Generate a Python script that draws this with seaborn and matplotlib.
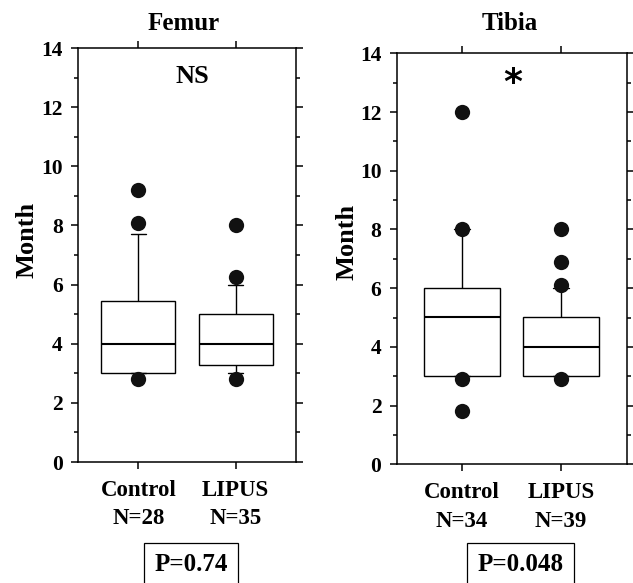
import matplotlib
matplotlib.use("Agg")
import matplotlib.pyplot as plt
import seaborn as sns
import pandas as pd
from matplotlib.ticker import MultipleLocator

# groups and sample sizes
groups = ["Control", "LIPUS"]
femur_n = [28, 35]
tibia_n = [34, 39]

# box summaries (10th pct, Q1, median, Q3, 90th pct)
femur_lo = [3.0, 3.0]
femur_q1 = [3.0, 3.27]
femur_med = [4.0, 4.0]
femur_q3 = [5.45, 5.02]
femur_hi = [7.7, 6.0]

tibia_lo = [3.0, 3.0]
tibia_q1 = [3.0, 3.0]
tibia_med = [5.03, 3.98]
tibia_q3 = [6.0, 5.02]
tibia_hi = [8.0, 6.0]

# points outside the whiskers
femur_out_control = [9.2, 8.1, 2.8]
femur_out_lipus = [8.0, 6.25, 2.8]
tibia_out_control = [12.0, 8.0, 2.9, 1.83]
tibia_out_lipus = [8.0, 6.9, 6.1, 2.9]

femur_p = "P=0.74"
tibia_p = "P=0.048"


def box_frame(lo, q1, med, q3, hi):
    rows = []
    for i, g in enumerate(groups):
        for v in (lo[i], q1[i], med[i], q3[i], hi[i]):
            rows.append({"group": g, "month": v})
    return pd.DataFrame(rows)


def out_frame(out_control, out_lipus):
    rows = [{"group": "Control", "month": v} for v in out_control]
    rows += [{"group": "LIPUS", "month": v} for v in out_lipus]
    return pd.DataFrame(rows)


def draw_panel(ax, box_df, out_df, n, title, title_x, title_pad, mark, mark_kw, xlim):
    sns.boxplot(data=box_df, x="group", y="month", order=groups, whis=(0, 100),
                width=0.76, showfliers=False, ax=ax, capwidths=0.16,
                boxprops=dict(facecolor="white", edgecolor="black", linewidth=1.0),
                medianprops=dict(color="black", linewidth=1.5),
                whiskerprops=dict(color="black", linewidth=1.0),
                capprops=dict(color="black", linewidth=1.0))
    sns.stripplot(data=out_df, x="group", y="month", order=groups, jitter=False,
                  color="#111111", size=11, linewidth=0, ax=ax, zorder=5)
    ax.set_ylim(0, 14)
    ax.set_xlim(*xlim)
    ax.yaxis.set_major_locator(MultipleLocator(2))
    ax.yaxis.set_minor_locator(MultipleLocator(1))
    ax.set_xticks([0, 1])
    ax.set_xticklabels([f"{g}\nN={k}" for g, k in zip(groups, n)],
                       linespacing=1.45, fontsize=16.5, fontweight="bold")
    ax.tick_params(axis="both", which="both", direction="out", top=True, right=True,
                   width=1.1, colors="black")
    ax.tick_params(axis="y", which="major", length=5, labelsize=15.5, pad=6)
    ax.tick_params(axis="x", which="major", length=5, pad=8)
    ax.tick_params(axis="y", which="minor", length=3)
    for lab in ax.get_yticklabels():
        lab.set_fontweight("bold")
    for s in ax.spines.values():
        s.set_visible(True)
        s.set_linewidth(1.1)
        s.set_color("black")
    ax.set_xlabel("")
    ax.set_ylabel("Month", fontsize=19, fontweight="bold", color="black")
    ax.set_title(title, fontsize=18, fontweight="bold", color="black",
                 x=title_x, y=1.0, pad=title_pad)
    ax.text(mark_kw["x"], mark_kw["y"], mark, ha="center", va="center", color="black",
            fontsize=mark_kw["size"], fontweight="bold", family=mark_kw["family"])


sns.set_theme(style="ticks")
plt.rcParams["font.family"] = ["Liberation Serif", "DejaVu Serif"]
plt.rcParams["font.weight"] = "bold"
plt.rcParams["text.color"] = "black"
plt.rcParams["axes.labelcolor"] = "black"

fig = plt.figure(figsize=(6.33, 5.83), dpi=100)
ax1 = fig.add_axes([0.1232, 0.2075, 0.3444, 0.7101])
ax2 = fig.add_axes([0.6267, 0.2036, 0.3633, 0.7050])

draw_panel(ax1, box_frame(femur_lo, femur_q1, femur_med, femur_q3, femur_hi),
           out_frame(femur_out_control, femur_out_lipus), femur_n, "Femur", 0.486, 13,
           "NS", dict(x=0.56, y=13.05, size=19, family="Liberation Serif"), (-0.62, 1.62))
draw_panel(ax2, box_frame(tibia_lo, tibia_q1, tibia_med, tibia_q3, tibia_hi),
           out_frame(tibia_out_control, tibia_out_lipus), tibia_n, "Tibia", 0.49, 16.5,
           "*", dict(x=0.51, y=13.0, size=26, family="DejaVu Sans"), (-0.655, 1.66))

ax1.yaxis.set_label_coords(-0.18, 0.536)
ax2.yaxis.set_label_coords(-0.165, 0.54)

for x, txt in ((0.3016, femur_p), (0.8223, tibia_p)):
    fig.text(x, 0.031, txt, ha="center", va="center", fontsize=18, fontweight="bold",
             color="black",
             bbox=dict(boxstyle="square,pad=0.4", facecolor="white",
                       edgecolor="black", linewidth=0.9))

fig.savefig("out.png", dpi=100)
